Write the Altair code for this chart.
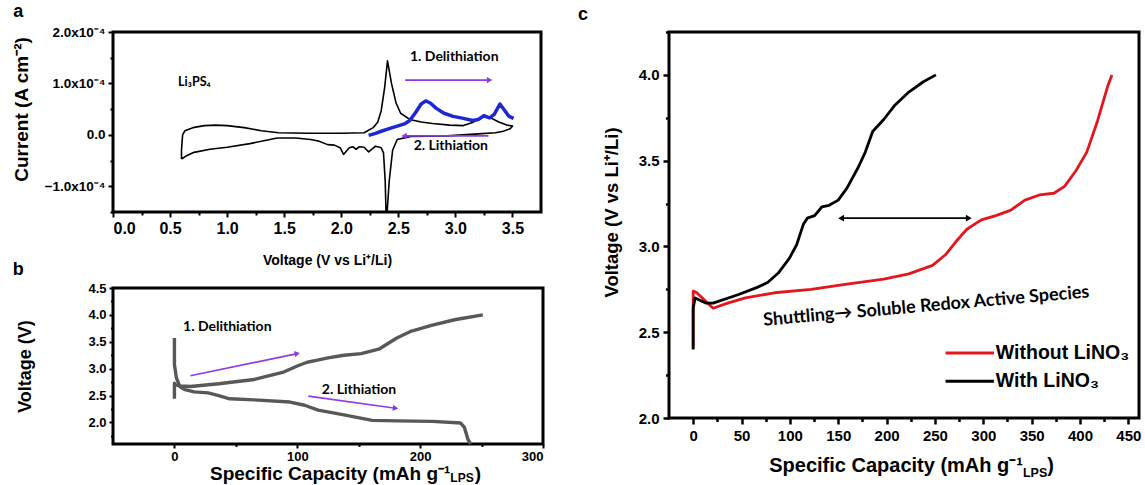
import math
import altair as alt
import pandas as pd

FONT = "Liberation Sans"
ANNO = "Lato"
PURPLE = "#8f3be3"
BLUE = "#1d27d2"
RED = "#e2171d"
GRAY = "#585858"

# ---------------- panel a : cyclic voltammogram (current in 1e-4 A cm^-2) ----------------
cv_voltage = [0.60, 0.60, 0.61, 0.63, 0.70, 0.80, 0.90, 1.00, 1.15, 1.30, 1.45, 1.70, 2.00, 2.20, 2.28,
              2.32, 2.35, 2.38, 2.405, 2.44, 2.48, 2.52, 2.60, 2.70, 2.80, 2.95, 3.07, 3.15, 3.20, 3.25,
              3.30, 3.38, 3.45, 3.50, 3.48, 3.42, 3.35, 3.20, 2.93, 2.61, 2.49, 2.45, 2.42, 2.402, 2.392,
              2.385, 2.37, 2.35, 2.30, 2.24, 2.20, 2.16, 2.13, 2.10, 2.07, 2.02, 1.99, 1.94, 1.88, 1.80,
              1.73, 1.60, 1.44, 1.20, 1.00, 0.85, 0.71, 0.65, 0.60]
cv_current = [-0.47, -0.30, 0.00, 0.08, 0.14, 0.18, 0.19, 0.18, 0.14, 0.08, 0.04, 0.03, 0.03, 0.04, 0.14,
              0.25, 0.47, 0.92, 1.44, 1.00, 0.62, 0.42, 0.30, 0.25, 0.22, 0.19, 0.18, 0.24, 0.30, 0.39,
              0.34, 0.25, 0.19, 0.17, 0.12, 0.07, 0.04, 0.02, -0.02, -0.03, -0.09, -0.30, -0.90, -1.50, -1.50,
              -0.90, -0.35, -0.25, -0.22, -0.33, -0.24, -0.23, -0.28, -0.23, -0.25, -0.38, -0.25, -0.20, -0.19, -0.12,
              -0.09, -0.06, -0.06, -0.17, -0.24, -0.28, -0.34, -0.40, -0.47]
li_voltage = [2.24, 2.30, 2.35, 2.42, 2.49, 2.56, 2.60, 2.65, 2.70, 2.74, 2.78, 2.83, 2.90, 2.98, 3.07,
              3.15, 3.20, 3.25, 3.30, 3.34, 3.39, 3.43, 3.47, 3.51]
li_current = [-0.01, 0.03, 0.07, 0.12, 0.17, 0.22, 0.28, 0.43, 0.60, 0.66, 0.62, 0.52, 0.42, 0.36, 0.32,
              0.28, 0.30, 0.37, 0.33, 0.40, 0.60, 0.48, 0.36, 0.32]

# ---------------- panel b : voltage profile ----------------
b_charge_cap = [0, 0, 1, 5, 13, 36, 65, 88, 100, 108, 114.5, 125, 138, 152, 167, 181, 193, 210, 228, 251]
b_charge_v = [2.44, 2.73, 2.70, 2.68, 2.67, 2.72, 2.80, 2.93, 3.05, 3.12, 3.15, 3.20, 3.25, 3.28, 3.37,
              3.57, 3.70, 3.81, 3.91, 4.00]
b_dis_cap = [0, 0, 1.5, 4.3, 8.7, 16, 27.5, 36, 45, 65, 94, 106, 117, 138, 161, 181, 210, 233, 236, 239, 241]
b_dis_v = [3.57, 3.08, 2.84, 2.67, 2.61, 2.57, 2.55, 2.50, 2.44, 2.42, 2.38, 2.32, 2.23, 2.14, 2.04,
           2.03, 2.02, 1.99, 1.91, 1.68, 1.60]

# ---------------- panel c : with / without LiNO3 ----------------
c_without_cap = [0, 0, 3.7, 20.6, 35.6, 54, 84, 122, 159, 197, 223, 247.5, 260.6, 272, 283, 298, 313,
                 328, 343, 358, 373, 384, 395.6, 407, 418, 429, 433]
c_without_v = [2.41, 2.74, 2.73, 2.64, 2.67, 2.70, 2.73, 2.75, 2.78, 2.81, 2.84, 2.89, 2.95, 3.03, 3.10,
               3.155, 3.18, 3.21, 3.27, 3.30, 3.31, 3.35, 3.44, 3.55, 3.73, 3.94, 4.00]
c_with_cap = [0, 0, 2, 13, 20.6, 47, 65.6, 77, 88, 99.4, 107, 114, 118, 125.6, 133, 140.6, 150, 159,
              170.6, 178, 185.6, 197, 208, 223, 238, 251]
c_with_v = [2.40, 2.64, 2.70, 2.67, 2.67, 2.72, 2.76, 2.79, 2.845, 2.93, 3.01, 3.13, 3.165, 3.18, 3.23,
            3.24, 3.27, 3.34, 3.46, 3.55, 3.67, 3.74, 3.82, 3.90, 3.96, 4.00]
series_names = ["Without LiNO₃", "With LiNO₃"]

# axis ticks
a_x_major = [0.0, 0.5, 1.0, 1.5, 2.0, 2.5, 3.0, 3.5]
a_x_minor = [0.25, 0.75, 1.25, 1.75, 2.25, 2.75, 3.25]
a_y_major = [-1.0, 0.0, 1.0, 2.0]
a_y_minor = [-1.5, -0.5, 0.5, 1.5]
b_x_major = [0, 100, 200, 300]
b_x_minor = [50, 150, 250]
b_y_major = [2.0, 2.5, 3.0, 3.5, 4.0, 4.5]
b_y_minor = [1.75, 2.25, 2.75, 3.25, 3.75, 4.25]
c_x_major = [0, 50, 100, 150, 200, 250, 300, 350, 400, 450]
c_x_minor = [25, 75, 125, 175, 225, 275, 325, 375, 425]
c_y_major = [2.0, 2.5, 3.0, 3.5, 4.0]
c_y_minor = [2.25, 2.75, 3.25, 3.75, 4.25]

A_DOM_X, A_DOM_Y = [0, 3.75], [-1.5, 2.0]
B_DOM_X, B_DOM_Y = [-50, 300], [1.6, 4.5]
C_DOM_X, C_DOM_Y = [-25, 461], [2.0, 4.25]
A_W, A_H = 428, 180
B_W, B_H = 430, 156
C_W, C_H = 470, 386


def sc(dom):
    return alt.Scale(domain=dom, nice=False, zero=False)


def enc(xs, ys, xf="x", yf="y"):
    return dict(x=alt.X(f"{xf}:Q", scale=xs, axis=None), y=alt.Y(f"{yf}:Q", scale=ys, axis=None))


def path_layer(xv, yv, xs, ys, color, width):
    df = pd.DataFrame({"x": xv, "y": yv, "i": list(range(len(xv)))})
    return alt.Chart(df).mark_line(color=color, strokeWidth=width, strokeJoin="round").encode(
        order="i:Q", **enc(xs, ys))


def text_layer(rows, xs, ys, **kw):
    df = pd.DataFrame(rows, columns=["x", "y", "t"])
    return alt.Chart(df).mark_text(**kw).encode(text="t:N", **enc(xs, ys))


def arrow_layers(x0, y0, x1, y1, xs, ys, ppx, ppy, color, width, head, both=False):
    df = pd.DataFrame({"x": [x0], "y": [y0], "x2": [x1], "y2": [y1]})
    rule = alt.Chart(df).mark_rule(color=color, strokeWidth=width).encode(
        x2="x2:Q", y2="y2:Q", **enc(xs, ys))
    ang = math.degrees(math.atan2(-(y1 - y0) * ppy, (x1 - x0) * ppx)) % 360
    heads = [(x1, y1, ang)]
    if both:
        heads.append((x0, y0, (ang + 180) % 360))
    out = [rule]
    for hx, hy, ha in heads:
        hdf = pd.DataFrame({"x": [hx], "y": [hy]})
        out.append(alt.Chart(hdf).mark_point(shape="triangle-right", filled=True, color=color,
                                             size=head, angle=ha, opacity=1).encode(**enc(xs, ys)))
    return out


def axis_layers(xs, ys, xdom, ydom, xmaj, xmin, ymaj, ymin, xkw, ykw, tick, minor, tw):
    df = pd.DataFrame({"x": [xdom[0]], "y": [ydom[0]]})
    major = alt.Chart(df).mark_point(opacity=0).encode(
        x=alt.X("x:Q", scale=xs, axis=alt.Axis(orient="bottom", values=xmaj, tickSize=tick, tickWidth=tw, **xkw)),
        y=alt.Y("y:Q", scale=ys, axis=alt.Axis(orient="left", values=ymaj, tickSize=tick, tickWidth=tw, **ykw)))
    minor_l = alt.Chart(df).mark_point(opacity=0).encode(
        x=alt.X("x:Q", scale=xs, axis=alt.Axis(orient="bottom", values=xmin, tickSize=minor, tickWidth=tw,
                                               labels=False, title=None)),
        y=alt.Y("y:Q", scale=ys, axis=alt.Axis(orient="left", values=ymin, tickSize=minor, tickWidth=tw,
                                               labels=False, title=None)))
    return [major, minor_l]


# ---------------- build panel a ----------------
ax, ay = sc(A_DOM_X), sc(A_DOM_Y)
a_ppx, a_ppy = A_W / (A_DOM_X[1] - A_DOM_X[0]), A_H / (A_DOM_Y[1] - A_DOM_Y[0])
a_layers = axis_layers(
    ax, ay, A_DOM_X, A_DOM_Y, a_x_major, a_x_minor, a_y_major, a_y_minor,
    dict(format=".1f", labelFontSize=16, labelPadding=3, title="Voltage (V vs Li⁺/Li)", titleFontSize=14,
         titlePadding=17),
    dict(labelExpr="datum.value == 0 ? '0.0' : format(datum.value, '.1f') + 'x10⁻⁴'", labelFontSize=13.5,
         labelPadding=3, title="Current (A cm⁻²)", titleFontSize=19, titleAngle=270, titleAlign="center",
         titleBaseline="middle", titleX=-92, titleY=77),
    5, 3, 2)
a_layers += [
    path_layer(cv_voltage, cv_current, ax, ay, "black", 1.6),
    path_layer(li_voltage, li_current, ax, ay, BLUE, 3.5),
]
a_layers += arrow_layers(2.56, 1.065, 3.30, 1.065, ax, ay, a_ppx, a_ppy, PURPLE, 1.6, 40)
a_layers += arrow_layers(3.29, -0.02, 2.55, -0.02, ax, ay, a_ppx, a_ppy, PURPLE, 1.6, 40)
a_layers += [
    text_layer([(2.99, 1.52, "1. Delithiation"), (2.96, -0.22, "2. Lithiation")], ax, ay,
               font=ANNO, fontWeight="bold", fontSize=14, align="center", baseline="middle", color="black"),
    text_layer([(0.57, 1.02, "Li₃PS₄")], ax, ay, font=ANNO, fontWeight="bold", fontSize=12.5,
               align="left", baseline="middle", color="black"),
    # panel letters a and b (b sits between the two left panels)
    text_layer([(-0.83, 2.39, "a"), (-0.83, -2.63, "b")], ax, ay, font=FONT, fontWeight="bold", fontSize=18,
               align="center", baseline="middle", color="black"),
]
panel_a = alt.layer(*a_layers).resolve_axis(x="independent", y="independent").properties(width=A_W, height=A_H)

# ---------------- build panel b ----------------
bx, by = sc(B_DOM_X), sc(B_DOM_Y)
b_ppx, b_ppy = B_W / (B_DOM_X[1] - B_DOM_X[0]), B_H / (B_DOM_Y[1] - B_DOM_Y[0])
b_layers = axis_layers(
    bx, by, B_DOM_X, B_DOM_Y, b_x_major, b_x_minor, b_y_major, b_y_minor,
    dict(labelFontSize=13, labelPadding=2, title=None),
    dict(format=".1f", labelFontSize=13, labelPadding=3, title="Voltage (V)", titleFontSize=18,
         titleAngle=270, titleAlign="center", titleBaseline="middle", titleX=-88, titleY=B_H / 2),
    4, 2.5, 2)
b_layers += [
    path_layer(b_charge_cap, b_charge_v, bx, by, GRAY, 3.4),
    path_layer(b_dis_cap, b_dis_v, bx, by, GRAY, 3.4),
]
b_layers += arrow_layers(13, 2.87, 100, 3.28, bx, by, b_ppx, b_ppy, PURPLE, 1.6, 40)
b_layers += arrow_layers(109, 2.49, 180, 2.265, bx, by, b_ppx, b_ppy, PURPLE, 1.6, 40)
b_layers += [
    text_layer([(7, 3.77, "1. Delithiation"), (120, 2.61, "2. Lithiation")], bx, by,
               font=ANNO, fontWeight="bold", fontSize=14, align="left", baseline="middle", color="black"),
    text_layer([(224.6, 1.04, "Specific Capacity (mAh g⁻¹")], bx, by, font=FONT, fontWeight="bold",
               fontSize=19, align="right", baseline="middle", color="black"),
    text_layer([(224.6, 1.04, "LPS")], bx, by, font=FONT, fontWeight="bold", fontSize=12,
               align="left", baseline="middle", dy=4, color="black"),
    text_layer([(244.5, 1.04, ")")], bx, by, font=FONT, fontWeight="bold", fontSize=19,
               align="left", baseline="middle", color="black"),
]
panel_b = alt.layer(*b_layers).resolve_axis(x="independent", y="independent").properties(width=B_W, height=B_H)

# ---------------- build panel c ----------------
cx, cy = sc(C_DOM_X), sc(C_DOM_Y)
c_ppx, c_ppy = C_W / (C_DOM_X[1] - C_DOM_X[0]), C_H / (C_DOM_Y[1] - C_DOM_Y[0])
c_layers = axis_layers(
    cx, cy, C_DOM_X, C_DOM_Y, c_x_major, c_x_minor, c_y_major, c_y_minor,
    dict(labelFontSize=15, labelPadding=4, title=None),
    dict(format=".1f", labelFontSize=15, labelPadding=4, title="Voltage (V vs Li⁺/Li)", titleFontSize=18.5,
         titleAngle=270, titleAlign="center", titleBaseline="middle", titleX=-58, titleY=180),
    6, 3.5, 2.5)
c_layers += [
    path_layer(c_without_cap, c_without_v, cx, cy, RED, 2.8),
    path_layer(c_with_cap, c_with_v, cx, cy, "black", 2.8),
]
c_layers += arrow_layers(153, 3.165, 285, 3.165, cx, cy, c_ppx, c_ppy, "black", 1.6, 45, both=True)
leg = pd.DataFrame({"x": [261, 261], "x2": [311, 311], "y": [2.379, 2.214], "s": series_names})
c_layers += [
    alt.Chart(leg).mark_rule(strokeWidth=3).encode(
        x2="x2:Q", color=alt.Color("s:N", scale=alt.Scale(domain=series_names, range=[RED, "black"]), legend=None),
        **enc(cx, cy)),
    text_layer([(313, 2.379, series_names[0]), (313, 2.214, series_names[1])], cx, cy, font=FONT,
               fontWeight="bold", fontSize=19.5, align="left", baseline="middle", color="black"),
    text_layer([(241, 2.65, "Shuttling→ Soluble Redox Active Species")], cx, cy, font=ANNO,
               fontWeight="bold", fontSize=18, align="center", baseline="middle", angle=355, color="black"),
    text_layer([(-113.9, 4.349, "c")], cx, cy, font=FONT, fontWeight="bold", fontSize=18,
               align="center", baseline="middle", color="black"),
    text_layer([(341, 1.72, "Specific Capacity (mAh g⁻¹")], cx, cy, font=FONT, fontWeight="bold",
               fontSize=20, align="right", baseline="middle", color="black"),
    text_layer([(341, 1.72, "LPS")], cx, cy, font=FONT, fontWeight="bold", fontSize=12.5,
               align="left", baseline="middle", dy=7, color="black"),
    text_layer([(366, 1.72, ")")], cx, cy, font=FONT, fontWeight="bold", fontSize=20,
               align="left", baseline="middle", color="black"),
]
panel_c = alt.layer(*c_layers).resolve_axis(x="independent", y="independent").properties(width=C_W, height=C_H)

left = alt.vconcat(panel_a, panel_b, spacing=-1)
chart = alt.hconcat(left, panel_c, spacing=30).properties(
    padding={"left": 10, "top": 1, "right": 0, "bottom": 0}, background="white"
).configure_view(stroke="black", strokeWidth=3).configure_axis(
    labelFont=FONT, titleFont=FONT, labelFontWeight="bold", titleFontWeight="bold",
    labelColor="black", titleColor="black", tickColor="black", domain=False, grid=False
)

chart.save("out.html", embed_options={"renderer": "svg", "actions": False})
